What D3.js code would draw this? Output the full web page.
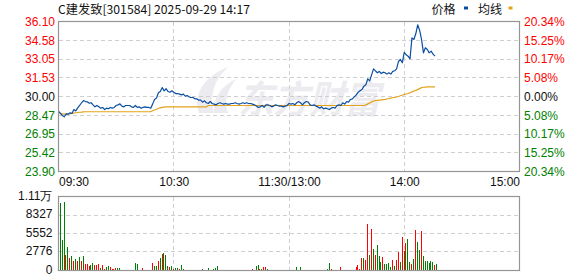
<!DOCTYPE html>
<html>
<head>
<meta charset="utf-8">
<script src="https://cdn.jsdelivr.net/npm/d3@7"></script>
<style>
  body { margin: 0; background: #fff; }
  svg { display: block; }
  svg text { font-family: "Liberation Sans", Arial, sans-serif; font-size: 12px; }
</style>
</head>
<body>
<div id="chart"></div>
<script>
var title = "C建发致[301584] 2025-09-29 14:17";
var prevClose = 30.00;
var priceTicks = [36.10, 34.58, 33.05, 31.53, 30.00, 28.47, 26.95, 25.42, 23.90];
var pctLabels = ["20.34%", "15.25%", "10.17%", "5.08%", "0.00%", "5.08%", "10.17%", "15.25%", "20.34%"];
var volTicks = [11103, 8327, 5552, 2776, 0];
var volLabels = ["1.11万", "8327", "5552", "2776", "0"];
var timeTicks = [0, 60, 120, 180, 240];
var timeLabels = ["09:30", "10:30", "11:30/13:00", "14:00", "15:00"];
var legendNames = ["价格", "均线"];

// one value per minute, 09:30 .. 14:16
var price = [
  28.80, 28.62, 28.46, 28.35, 28.59, 28.56, 28.67, 28.62, 28.94, 28.83,
  29.08, 29.27, 29.49, 29.67, 29.59, 29.57, 29.46, 29.49, 29.32, 29.16,
  29.27, 29.16, 29.05, 29.11, 28.94, 29.05, 29.00, 29.11, 29.05, 29.11,
  29.27, 29.32, 29.40, 29.22, 29.16, 29.27, 29.27, 29.27, 29.16, 29.11,
  29.27, 29.11, 29.16, 29.05, 29.11, 29.16, 29.11, 29.11, 29.05, 29.38,
  29.76, 29.87, 30.30, 30.41, 30.73, 30.46, 30.63, 30.41, 30.35, 30.46,
  30.35,
  30.24, 30.24, 30.19, 30.13, 30.19, 30.03, 30.08, 29.97, 29.92, 29.92,
  29.81, 29.81, 29.70, 29.70, 29.54, 29.65, 29.49, 29.43, 29.59, 29.43,
  29.38, 29.32, 29.43, 29.49, 29.43, 29.38, 29.43, 29.38, 29.38, 29.43,
  29.43, 29.49, 29.43, 29.38, 29.43, 29.49, 29.43, 29.49, 29.43, 29.43,
  29.38, 29.32, 29.22, 29.11, 29.16, 29.27, 29.11, 29.32, 29.32, 29.27,
  29.16, 29.22, 29.32, 29.27, 29.22, 29.22, 29.16, 29.22, 29.27, 29.43,
  29.38,
  29.43, 29.32, 29.49, 29.59, 29.49, 29.32, 29.49, 29.59, 29.54, 29.32,
  29.27, 29.32, 29.22, 29.16, 29.05, 29.16, 29.00, 29.05, 29.00, 28.94,
  29.05, 29.11, 29.05, 29.27, 29.32, 29.27, 29.49, 29.38, 29.59, 29.54,
  29.76, 29.81, 29.97, 30.13, 30.35, 30.46, 30.57, 30.84, 30.95, 31.44,
  31.27, 31.76, 32.25, 32.09, 31.93, 32.04, 31.87, 31.98, 31.93, 31.82,
  31.93, 31.82, 32.04, 32.09, 32.25, 32.85, 33.01, 32.74, 33.60, 33.39,
  33.28, 33.06, 34.77, 34.64, 35.10, 35.83, 35.39, 34.64, 33.55, 33.96,
  33.82, 33.55, 33.69, 33.44, 33.28
];

var avgPrice = [
  28.72, 28.64, 28.58, 28.56, 28.56, 28.58, 28.60, 28.62, 28.65, 28.68,
  28.70, 28.72, 28.73, 28.75, 28.76, 28.76, 28.76, 28.76, 28.76, 28.76,
  28.76, 28.76, 28.76, 28.76, 28.76, 28.76, 28.76, 28.76, 28.76, 28.76,
  28.76, 28.76, 28.76, 28.76, 28.76, 28.76, 28.76, 28.76, 28.76, 28.76,
  28.76, 28.76, 28.76, 28.76, 28.76, 28.76, 28.76, 28.76, 28.76, 28.84,
  28.90, 28.96, 29.02, 29.08, 29.12, 29.14, 29.16, 29.16, 29.16, 29.16,
  29.16, 29.16, 29.16, 29.16, 29.16, 29.16, 29.16, 29.16, 29.16, 29.16,
  29.16, 29.16, 29.16, 29.16, 29.16, 29.16, 29.16, 29.16, 29.27, 29.27,
  29.27, 29.27, 29.27, 29.27, 29.27, 29.27, 29.27, 29.27, 29.27, 29.27,
  29.27, 29.27, 29.27, 29.27, 29.27, 29.27, 29.27, 29.27, 29.27, 29.27,
  29.27, 29.27, 29.27, 29.27, 29.27, 29.27, 29.27, 29.27, 29.27, 29.27,
  29.27, 29.27, 29.27, 29.27, 29.27, 29.27, 29.27, 29.27, 29.27, 29.27,
  29.27, 29.27, 29.27, 29.27, 29.27, 29.27, 29.27, 29.27, 29.27, 29.27,
  29.27, 29.27, 29.27, 29.27, 29.27, 29.27, 29.27, 29.27, 29.27, 29.27,
  29.27, 29.27, 29.27, 29.27, 29.27, 29.27, 29.27, 29.27, 29.27, 29.27,
  29.27, 29.27, 29.27, 29.27, 29.27, 29.27, 29.27, 29.27, 29.27, 29.27,
  29.30, 29.40, 29.48, 29.56, 29.63, 29.66, 29.68, 29.70, 29.72, 29.74,
  29.76, 29.80, 29.84, 29.87, 29.90, 29.93, 29.96, 30.00, 30.06, 30.12,
  30.16, 30.20, 30.24, 30.31, 30.38, 30.45, 30.50, 30.56, 30.64, 30.72,
  30.75, 30.77, 30.79, 30.79, 30.79, 30.79, 30.79
];

var volume = [
  10140, 4570, 10340, 2310, 3510, 1910, 2160, 1460, 1710, 1400,
  2010, 1400, 2160, 950, 950, 650, 800, 1100, 800, 800,
  950, 450, 800, 250, 500, 750, 500, 200, 200, 350,
  350, 350, 150, 150, 150, 150, 120, 150, 120, 1100,
  950, 150, 150, 350, 150, 150, 150, 150, 1100, 700,
  700, 1400, 1860, 2410, 2610, 2310, 650, 550, 650, 200,
  350, 350, 200, 800, 200, 150, 150, 150, 150, 150,
  150, 150, 150, 150, 300, 150, 150, 450, 150, 150,
  300, 450, 650, 150, 150, 150, 150, 150, 150, 150,
  150, 150, 150, 150, 150, 150, 150, 150, 150, 150,
  200, 150, 650, 800, 300, 300, 500, 500, 200, 150,
  150, 150, 150, 150, 150, 150, 150, 150, 150, 150,
  150, 150, 150, 500, 150, 500, 150, 150, 150, 150,
  150, 150, 150, 150, 150, 150, 150, 150, 150, 300,
  1100, 200, 150, 150, 150, 150, 500, 150, 150, 150,
  150, 150, 150, 150, 500, 800, 200, 1860, 1860, 1560,
  6980, 2310, 6220, 3210, 2310, 3820, 2160, 1260, 2010, 950,
  950, 1100, 500, 1560, 650, 1560, 2760, 1260, 5020, 2910,
  4120, 4720, 1260, 950, 1710, 6070, 4270, 3060, 5920, 2160,
  1410, 1410, 1100, 1410, 1260, 800, 950
];

// u = price up that minute (red), d = down (green)
var volDir = (
  "dddudududu" + "duduuudduu" + "uduudduuuu" + "dduuuddddd" + "ddduuuddud" +
  "dududddudu" + "dduddduddd" + "dddddddddu" + "dddddduddd" + "duuuuuuuuu" +
  "uddduduudd" + "ddddduuuuu" + "udududuuuu" + "uudddddddd" + "duuuuuuudd" +
  "dddduuuudu" + "udududddud" + "ddduduudud" + "uddududdud" + "dddddud"
).split("");

var width = 578, height = 276;
var left = 58.5, right = 519.5;
var priceTop = 21.5, priceBottom = 171.5;
var volTop = 196.5, volBottom = 270.5;

var red = "#ff0000", green = "#008000", gridColor = "#cfcfcf";
var lineColor = "#0b4ea2", avgColor = "#e3a21a";

var x = d3.scaleLinear().domain([0, 240]).range([left, right]);
var yP = d3.scaleLinear().domain([23.90, 36.10]).range([priceBottom, priceTop]);
var yV = d3.scaleLinear().domain([0, 11103]).range([volBottom, volTop]);

function crisp(v) { return Math.round(v - 0.5) + 0.5; }
function priceColor(v) {
  if (v > prevClose + 0.001) return red;
  if (v < prevClose - 0.001) return green;
  return "#111";
}

var svg = d3.select("#chart").append("svg")
  .attr("width", width)
  .attr("height", height);

// watermark
var wm = svg.append("g").attr("fill", "#ebebf0");
wm.append("path")
  .attr("d", "M199,113 C193,95 203,77 228,67 C214,80 209,95 214,113 Z M214,113 C213,98 221,86 236,79 C226,92 224,103 228,113 Z");
wm.append("text")
  .attr("x", 238)
  .attr("y", 113)
  .attr("textLength", 142)
  .attr("lengthAdjust", "spacingAndGlyphs")
  .style("font-family", "'Noto Sans CJK SC', sans-serif")
  .style("font-size", "38px")
  .style("font-weight", "bold")
  .style("font-style", "italic")
  .text("东方财富");

// grid lines
var grid = svg.append("g")
  .attr("stroke", gridColor)
  .attr("stroke-dasharray", "4,3")
  .attr("shape-rendering", "crispEdges");

grid.selectAll(".hp")
  .data(priceTicks.slice(1, -1)).enter()
  .append("line")
  .attr("x1", left).attr("x2", right)
  .attr("y1", d => crisp(yP(d))).attr("y2", d => crisp(yP(d)));

grid.selectAll(".hv")
  .data(volTicks.slice(1, -1)).enter()
  .append("line")
  .attr("x1", left).attr("x2", right)
  .attr("y1", d => crisp(yV(d))).attr("y2", d => crisp(yV(d)));

var innerTimes = timeTicks.slice(1, -1);
[[priceTop, priceBottom], [volTop, volBottom]].forEach(function(r) {
  grid.append("g").selectAll("line")
    .data(innerTimes).enter()
    .append("line")
    .attr("x1", d => crisp(x(d))).attr("x2", d => crisp(x(d)))
    .attr("y1", r[0]).attr("y2", r[1]);
});

// volume bars
svg.append("g")
  .attr("shape-rendering", "crispEdges")
  .selectAll("rect")
  .data(volume).enter()
  .append("rect")
  .attr("x", (d, i) => Math.round(x(i) + 1.2))
  .attr("width", 1)
  .attr("y", d => Math.round(yV(d)))
  .attr("height", d => 270 - Math.round(yV(d)))
  .attr("fill", (d, i) => volDir[i] === "u" ? red : green);

// average line and price line
var minuteLine = d3.line()
  .x((d, i) => x(i))
  .y(d => yP(d));

svg.append("path")
  .attr("d", minuteLine(avgPrice))
  .attr("fill", "none")
  .attr("stroke", avgColor)
  .attr("stroke-width", 1.2);

svg.append("path")
  .attr("d", minuteLine(price))
  .attr("fill", "none")
  .attr("stroke", lineColor)
  .attr("stroke-width", 1.2)
  .attr("stroke-linejoin", "round");

// frames
[[priceTop, priceBottom], [volTop, volBottom]].forEach(function(r) {
  svg.append("rect")
    .attr("x", left).attr("y", r[0])
    .attr("width", right - left).attr("height", r[1] - r[0])
    .attr("fill", "none")
    .attr("stroke", "#959595")
    .attr("stroke-width", 1.2);
});

// axes
function clean(g) {
  g.select(".domain").remove();
  g.attr("font-family", null).attr("font-size", null);
}

svg.append("g")
  .attr("transform", `translate(${left - 0.5},0)`)
  .call(d3.axisLeft(yP).tickValues(priceTicks).tickFormat(d3.format(".2f")).tickSize(0).tickPadding(3))
  .call(clean)
  .selectAll("text")
  .attr("fill", d => priceColor(d));

svg.append("g")
  .attr("transform", `translate(${right},0)`)
  .call(d3.axisRight(yP).tickValues(priceTicks).tickFormat((d, i) => pctLabels[i]).tickSize(0).tickPadding(4.5))
  .call(clean)
  .selectAll("text")
  .attr("fill", d => priceColor(d));

svg.append("g")
  .attr("transform", `translate(${left - 0.5},-1)`)
  .call(d3.axisLeft(yV).tickValues(volTicks).tickFormat((d, i) => volLabels[i]).tickSize(0).tickPadding(5.5))
  .call(clean)
  .selectAll("text")
  .attr("fill", "#111");

var xAxis = svg.append("g")
  .attr("transform", `translate(0,${priceBottom})`)
  .call(d3.axisBottom(x).tickValues(timeTicks).tickFormat((d, i) => timeLabels[i]).tickSize(0).tickPadding(6))
  .call(clean);
xAxis.selectAll("text").attr("fill", "#111");
xAxis.selectAll(".tick").filter((d, i) => i === 0).select("text").attr("text-anchor", "start");
xAxis.selectAll(".tick").filter((d, i) => i === timeTicks.length - 1).select("text").attr("text-anchor", "end");

// title
svg.append("text")
  .attr("x", 58)
  .attr("y", 13.5)
  .attr("textLength", 192)
  .attr("lengthAdjust", "spacingAndGlyphs")
  .style("font-family", "'Noto Sans CJK SC', sans-serif")
  .style("font-size", "12px")
  .attr("fill", "#111")
  .text(title);

// legend
var legend = svg.append("g");
[[431.5, 464, lineColor], [478, 508.5, avgColor]].forEach(function(p, i) {
  legend.append("text")
    .attr("x", p[0]).attr("y", 14)
    .style("font-family", "'Noto Sans CJK SC', sans-serif")
    .style("font-size", "12px")
    .attr("fill", "#111")
    .text(legendNames[i]);
  legend.append("rect")
    .attr("x", p[1]).attr("y", 6.5)
    .attr("width", 4).attr("height", 3)
    .attr("fill", p[2]);
});
</script>
</body>
</html>
